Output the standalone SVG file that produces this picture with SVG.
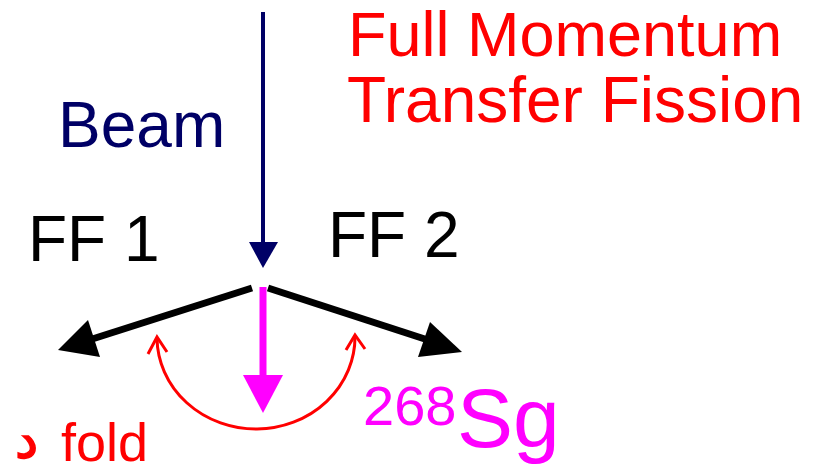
<svg xmlns="http://www.w3.org/2000/svg" width="813" height="471" viewBox="0 0 813 471">
<style>
  .t { font-family: "Liberation Sans", Arial, sans-serif; }
  .red { fill: #ff0000; }
  .blk { fill: #000000; }
  .navy { fill: #000066; }
  .mag { fill: #ff00ff; }
  .ff { stroke: #000000; stroke-width: 7; fill: none; }
  .arc { stroke: #ff0000; stroke-width: 3; fill: none; }
</style>
<rect width="813" height="471" fill="#ffffff"/>
<g id="title">
  <text class="t red" x="348" y="56" font-size="63">Full Momentum</text>
  <text class="t red" x="347" y="122" font-size="64">Transfer Fission</text>
</g>
<g id="beam-label">
  <text class="t navy" x="58" y="147" font-size="64">Beam</text>
</g>
<g id="ff1">
  <text class="t blk" x="28" y="261" font-size="64">FF 1</text>
</g>
<g id="ff2">
  <text class="t blk" x="328" y="257" font-size="64">FF 2</text>
</g>
<g id="sg">
  <text class="t mag" x="363" y="425" font-size="56">268</text>
  <text class="t mag" x="457" y="447" font-size="84">Sg</text>
</g>
<g id="fold">
  <text x="15" y="458" font-size="52" fill="#ff0000" stroke="#ff0000" stroke-width="1.5" font-family="DejaVu Sans, sans-serif">د</text>
  <text class="t red" x="61" y="461" font-size="54">fold</text>
</g>
<g id="connectors">
  <line x1="263" y1="12" x2="263" y2="244" stroke="#000066" stroke-width="4"/>
  <polygon points="249,242 278,242 263,268" fill="#000066"/>
  <line class="ff" x1="252" y1="288" x2="86" y2="341"/>
  <polygon points="58,350 88,320 100,357" fill="#000000"/>
  <line class="ff" x1="268" y1="288" x2="434" y2="342"/>
  <polygon points="462,352 430,322 418,357" fill="#000000"/>
  <line x1="263" y1="287" x2="263" y2="378" stroke="#ff00ff" stroke-width="7"/>
  <polygon points="243,375 283,375 263,413" fill="#ff00ff"/>
  <path class="arc" d="M157,338 A99,92 0 0,0 355,336"/>
  <polyline class="arc" points="148,354 157,337 167,352"/>
  <polyline class="arc" points="346,350 355,335 365,349"/>
</g>
</svg>
